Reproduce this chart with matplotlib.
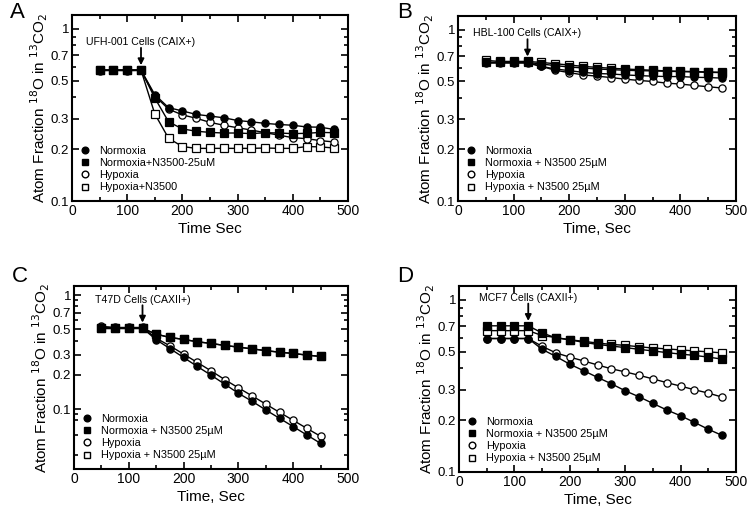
import matplotlib
matplotlib.use("Agg")
import matplotlib.pyplot as plt
from matplotlib.lines import Line2D
from matplotlib.ticker import FixedLocator, FixedFormatter, MultipleLocator, NullFormatter, LogLocator

plt.rcParams['font.family'] = ['Liberation Sans', 'DejaVu Sans']

# ---------------- data ----------------
time_abd = [50, 75, 100, 125, 150, 175, 200, 225, 250, 275, 300, 325, 350, 375, 400, 425, 450, 475]
time_c = [50, 75, 100, 125, 150, 175, 200, 225, 250, 275, 300, 325, 350, 375, 400, 425, 450]

# Panel A: UFH-001
a_norm = [0.575, 0.575, 0.575, 0.575, 0.414, 0.348, 0.333, 0.318, 0.311, 0.304, 0.293, 0.288, 0.282, 0.278, 0.275, 0.269, 0.268, 0.260]
a_norm_n = [0.575, 0.575, 0.575, 0.575, 0.396, 0.288, 0.262, 0.254, 0.250, 0.248, 0.248, 0.246, 0.249, 0.248, 0.246, 0.247, 0.250, 0.249]
a_hyp = [0.570, 0.572, 0.570, 0.572, 0.407, 0.341, 0.316, 0.302, 0.286, 0.275, 0.266, 0.258, 0.249, 0.241, 0.233, 0.230, 0.224, 0.220]
a_hyp_n = [0.575, 0.575, 0.575, 0.575, 0.320, 0.231, 0.207, 0.202, 0.202, 0.202, 0.202, 0.202, 0.203, 0.202, 0.202, 0.207, 0.206, 0.203]

# Panel B: HBL-100
b_norm = [0.643, 0.643, 0.643, 0.643, 0.610, 0.589, 0.576, 0.563, 0.554, 0.551, 0.544, 0.539, 0.535, 0.532, 0.532, 0.527, 0.525, 0.521]
b_norm_n = [0.643, 0.643, 0.643, 0.643, 0.630, 0.616, 0.605, 0.597, 0.589, 0.584, 0.579, 0.576, 0.574, 0.571, 0.569, 0.566, 0.563, 0.561]
b_hyp = [0.638, 0.638, 0.638, 0.638, 0.610, 0.579, 0.561, 0.544, 0.535, 0.525, 0.514, 0.505, 0.498, 0.487, 0.481, 0.472, 0.464, 0.456]
b_hyp_n = [0.661, 0.652, 0.652, 0.652, 0.643, 0.632, 0.621, 0.610, 0.602, 0.595, 0.589, 0.584, 0.579, 0.574, 0.571, 0.569, 0.566, 0.563]

# Panel C: T47D
c_norm = [0.527, 0.514, 0.514, 0.514, 0.406, 0.340, 0.284, 0.237, 0.199, 0.166, 0.138, 0.1175, 0.0986, 0.0834, 0.0705, 0.0595, 0.0503]
c_norm_n = [0.510, 0.510, 0.510, 0.510, 0.455, 0.425, 0.409, 0.390, 0.377, 0.362, 0.350, 0.338, 0.326, 0.316, 0.308, 0.298, 0.290]
c_hyp = [0.531, 0.520, 0.520, 0.520, 0.419, 0.359, 0.304, 0.257, 0.217, 0.182, 0.154, 0.131, 0.111, 0.094, 0.080, 0.068, 0.058]
c_hyp_n = [0.510, 0.510, 0.510, 0.510, 0.455, 0.425, 0.409, 0.390, 0.377, 0.362, 0.350, 0.338, 0.326, 0.316, 0.308, 0.298, 0.290]

# Panel D: MCF7
d_norm = [0.595, 0.595, 0.595, 0.595, 0.515, 0.468, 0.422, 0.387, 0.354, 0.325, 0.296, 0.273, 0.250, 0.229, 0.212, 0.194, 0.177, 0.163]
d_norm_n = [0.705, 0.705, 0.705, 0.705, 0.641, 0.600, 0.585, 0.565, 0.550, 0.538, 0.527, 0.515, 0.504, 0.493, 0.483, 0.475, 0.464, 0.452]
d_hyp = [0.595, 0.595, 0.595, 0.595, 0.536, 0.491, 0.464, 0.441, 0.418, 0.397, 0.381, 0.364, 0.347, 0.330, 0.315, 0.300, 0.287, 0.272]
d_hyp_n = [0.661, 0.661, 0.661, 0.661, 0.619, 0.603, 0.585, 0.573, 0.560, 0.550, 0.543, 0.533, 0.524, 0.518, 0.511, 0.504, 0.498, 0.491]

y_ticks = [0.1, 0.2, 0.3, 0.5, 0.7, 1]
y_tick_labels = ['0.1', '0.2', '0.3', '0.5', '0.7', '1']
x_ticks = [0, 100, 200, 300, 400, 500]

legend_a = ['Normoxia', 'Normoxia+N3500-25uM', 'Hypoxia', 'Hypoxia+N3500']
legend_std = ['Normoxia', 'Normoxia + N3500 25µM', 'Hypoxia', 'Hypoxia + N3500 25µM']

panels = [
    dict(letter='A', title='UFH-001 Cells (CAIX+)', xlabel='Time Sec', x=time_abd,
         series=[a_hyp_n, a_hyp, a_norm_n, a_norm], legend=legend_a, ylim=(0.1, 1.2),
         box=(72, 15, 348, 201), let=(10, 12)),
    dict(letter='B', title='HBL-100 Cells (CAIX+)', xlabel='Time, Sec', x=time_abd,
         series=[b_hyp_n, b_hyp, b_norm_n, b_norm], legend=legend_std, ylim=(0.1, 1.2),
         box=(458, 16, 736, 201), let=(397, 12)),
    dict(letter='C', title='T47D Cells (CAXII+)', xlabel='Time, Sec', x=time_c,
         series=[c_hyp_n, c_hyp, c_norm_n, c_norm], legend=legend_std, ylim=(0.03, 1.2),
         box=(74, 286, 348, 469), let=(12, 277)),
    dict(letter='D', title='MCF7 Cells (CAXII+)', xlabel='Time, Sec', x=time_abd,
         series=[d_hyp_n, d_hyp, d_norm_n, d_norm], legend=legend_std, ylim=(0.1, 1.2),
         box=(459, 286, 736, 472), let=(397, 277)),
]

# style order matches series order: hyp+N, hyp, norm+N, norm
styles = [('s', 'white'), ('o', 'white'), ('s', 'black'), ('o', 'black')]

W, H = 749, 508
fig = plt.figure(figsize=(W / 100, H / 100), dpi=100)

for p in panels:
    l, t, r, b = p['box']
    ax = fig.add_axes([l / W, 1 - b / H, (r - l) / W, (b - t) / H])
    for vals, (mk, fc) in zip(p['series'], styles):
        ax.plot(p['x'], vals, color='black', lw=1.0, marker=mk, markersize=5.2,
                markerfacecolor=fc, markeredgecolor='black', markeredgewidth=0.9)
    ax.set_yscale('log')
    ax.set_ylim(*p['ylim'])
    ax.set_xlim(0, 500)
    ax.yaxis.set_major_locator(FixedLocator(y_ticks))
    ax.yaxis.set_major_formatter(FixedFormatter(y_tick_labels))
    ax.yaxis.set_minor_locator(LogLocator(base=10, subs=(0.4, 0.6, 0.8, 0.9), numticks=10))
    ax.yaxis.set_minor_formatter(NullFormatter())
    ax.xaxis.set_major_locator(FixedLocator(x_ticks))
    ax.xaxis.set_minor_locator(MultipleLocator(50))
    ax.tick_params(which='both', direction='in', top=True, right=True, width=1.2)
    ax.tick_params(axis='x', labelsize=10)
    ax.tick_params(axis='y', labelsize=9.5)
    ax.tick_params(which='major', length=5, pad=2)
    ax.tick_params(which='minor', length=3)
    for s in ax.spines.values():
        s.set_linewidth(1.5)
    ax.set_xlabel(p['xlabel'], fontsize=11, labelpad=3)
    ax.set_ylabel('Atom Fraction $^{18}$O in $^{13}$CO$_2$', fontsize=11, labelpad=0.5)
    # annotation arrow at x = 125, pointing at the top series point
    y_at = max(s[3] for s in p['series'])
    ax.annotate('', xy=(125, y_at), xytext=(0, 16), textcoords='offset points',
                xycoords='data',
                arrowprops=dict(arrowstyle='-|>', color='black', lw=1.3, mutation_scale=9,
                                shrinkA=0, shrinkB=3.5))
    ax.annotate(p['title'], xy=(125, y_at), xytext=(0, 16.5), textcoords='offset points',
                ha='center', va='bottom', fontsize=7.6)
    # legend
    handles = [Line2D([], [], ls='none', marker='o', markersize=4.8, markerfacecolor='black', markeredgecolor='black'),
               Line2D([], [], ls='none', marker='s', markersize=4.8, markerfacecolor='black', markeredgecolor='black'),
               Line2D([], [], ls='none', marker='o', markersize=4.8, markerfacecolor='white', markeredgecolor='black'),
               Line2D([], [], ls='none', marker='s', markersize=4.8, markerfacecolor='white', markeredgecolor='black')]
    ax.legend(handles, p['legend'], loc='lower left', frameon=False, fontsize=7.8,
              handlelength=0.8, handletextpad=0.9, labelspacing=0.2,
              borderaxespad=0.4, bbox_to_anchor=(0.0, 0.0))
    fig.text(p['let'][0] / W, 1 - p['let'][1] / H, p['letter'], fontsize=16, ha='left', va='center')

fig.savefig('out.png', dpi=100)
